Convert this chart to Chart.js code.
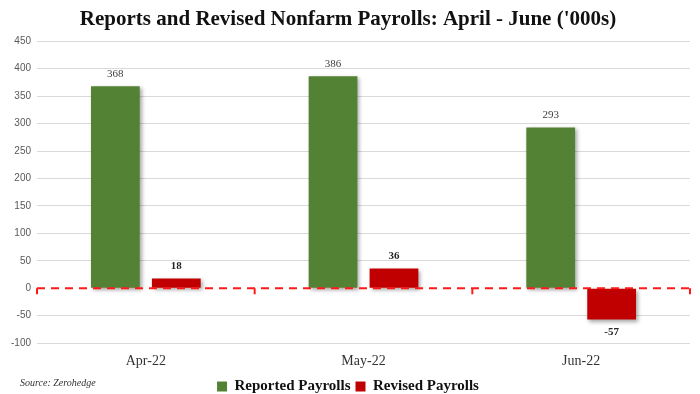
<!DOCTYPE html>
<html>
<head>
<meta charset="utf-8">
<script src="https://cdn.jsdelivr.net/npm/chart.js@4.4.0/dist/chart.umd.min.js"></script>
<style>
  html, body { margin: 0; padding: 0; background: #fff; }
  #wrap { position: relative; width: 700px; height: 394px; }
  #source { position: absolute; left: 20px; top: 377px; font: italic 10px 'Liberation Serif', serif; color: #333; }
</style>
</head>
<body>
<div id="wrap">
  <canvas id="nfp-chart" width="700" height="394"></canvas>
  <div id="source">Source: Zerohedge</div>
</div>
<script>
// Reports and Revised Nonfarm Payrolls ('000s)
const MESES = ['Apr-22', 'May-22', 'Jun-22'];
const REPORTED = [368, 386, 293];
const REVISED = [18, 36, -57];
const Y_MIN = -100, Y_MAX = 450, Y_STEP = 50;

const VERDE = '#548235';
const VERMELHO = '#C00000';

// sombra leve atrás das barras
const shadowPlugin = {
  id: 'shadow',
  beforeDatasetsDraw(chart) {
    const c = chart.ctx;
    c.save();
    c.shadowColor = 'rgba(0,0,0,0.35)';
    c.shadowBlur = 4;
    c.shadowOffsetX = 2;
    c.shadowOffsetY = 2;
  },
  afterDatasetsDraw(chart) {
    chart.ctx.restore();
  }
};

// linha tracejada do zero + marcas entre categorias
const zeroLinePlugin = {
  id: 'zeroLine',
  afterDatasetsDraw(chart) {
    const { ctx, chartArea, scales } = chart;
    const y0 = scales.y.getPixelForValue(0);
    ctx.save();
    ctx.strokeStyle = '#FF1A1A';
    ctx.lineWidth = 2;
    ctx.setLineDash([8, 6]);
    ctx.beginPath();
    ctx.moveTo(chartArea.left, y0);
    ctx.lineTo(chartArea.right, y0);
    ctx.stroke();
    ctx.setLineDash([]);
    const n = MESES.length;
    const w = (chartArea.right - chartArea.left) / n;
    for (let i = 0; i <= n; i++) {
      const x = chartArea.left + i * w;
      ctx.beginPath();
      ctx.moveTo(x, y0);
      ctx.lineTo(x, y0 + 6);
      ctx.stroke();
    }
    ctx.restore();
  }
};

// rótulos de valor
const labelsPlugin = {
  id: 'valueLabels',
  afterDraw(chart) {
    const { ctx } = chart;
    ctx.save();
    ctx.textAlign = 'center';
    chart.data.datasets.forEach((ds, di) => {
      const meta = chart.getDatasetMeta(di);
      meta.data.forEach((bar, i) => {
        const v = ds.data[i];
        if (di === 0) {
          ctx.font = '11px "Liberation Serif", serif';
          ctx.fillStyle = '#404040';
        } else {
          ctx.font = 'bold 11px "Liberation Serif", serif';
          ctx.fillStyle = '#262626';
        }
        if (v >= 0) {
          ctx.textBaseline = 'bottom';
          ctx.fillText(String(v), bar.x, bar.y - 7);
        } else {
          ctx.textBaseline = 'top';
          ctx.fillText(String(v), bar.x, bar.y + 7);
        }
      });
    });
    ctx.restore();
  }
};

new Chart(document.getElementById('nfp-chart').getContext('2d'), {
  type: 'bar',
  data: {
    labels: MESES,
    datasets: [
      {
        label: 'Reported Payrolls',
        data: REPORTED,
        backgroundColor: VERDE,
        barPercentage: 0.8,
        categoryPercentage: 0.56
      },
      {
        label: 'Revised Payrolls',
        data: REVISED,
        backgroundColor: VERMELHO,
        barPercentage: 0.8,
        categoryPercentage: 0.56
      }
    ]
  },
  plugins: [shadowPlugin, zeroLinePlugin, labelsPlugin],
  options: {
    responsive: false,
    animation: false,
    layout: { padding: { left: 6, right: 10, top: 0, bottom: -10 } },
    plugins: {
      title: {
        display: true,
        text: "Reports and Revised Nonfarm Payrolls: April - June ('000s)",
        color: '#111',
        font: { family: '"Liberation Serif", serif', size: 21, weight: 'bold' },
        padding: { top: 7, bottom: 9 }
      },
      legend: {
        display: true,
        position: 'bottom',
        labels: {
          color: '#111',
          font: { family: '"Liberation Serif", serif', size: 15, weight: 'bold' },
          boxWidth: 10,
          boxHeight: 10,
          padding: 5
        }
      },
      tooltip: { enabled: false }
    },
    scales: {
      x: {
        grid: { display: false },
        border: { display: false },
        afterFit(scale) { scale.height += 2; },
        ticks: {
          color: '#333',
          font: { family: '"Liberation Serif", serif', size: 14 },
          padding: 2
        }
      },
      y: {
        min: Y_MIN,
        max: Y_MAX,
        afterFit(scale) { scale.width = 31; },
        ticks: {
          stepSize: Y_STEP,
          color: '#595959',
          font: { family: '"Liberation Sans", sans-serif', size: 10 },
          padding: 6
        },
        border: { display: false },
        grid: {
          drawTicks: false,
          color: (c) => c.tick && c.tick.value === 0 ? 'rgba(0,0,0,0)' : '#D9D9D9'
        }
      }
    }
  }
});
</script>
</body>
</html>
